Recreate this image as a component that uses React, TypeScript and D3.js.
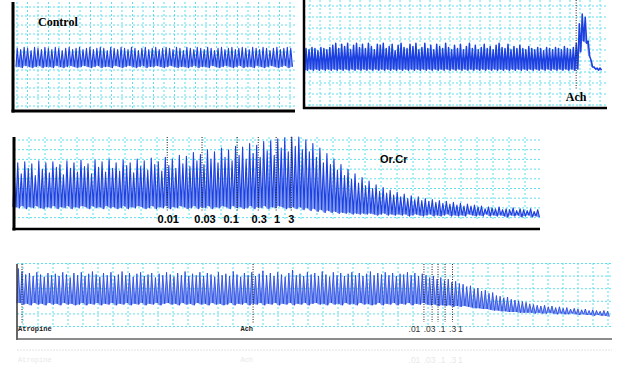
import React from 'react';
import * as d3 from 'd3';

// Control recording: peak and trough of each contraction (arbitrary tension units, 0-100)
const controlTop = [
  58, 57, 59, 58, 56, 59, 58, 57, 59, 58,
  57, 59, 58, 56, 58, 59, 57, 58, 59, 57,
  58, 59, 57, 58, 59, 58, 56, 59, 58, 57,
  59, 58, 57, 59, 58, 56, 58, 59, 57, 58,
  59, 57, 58, 59, 58, 57, 59, 58, 56, 59,
  58, 57, 59, 58, 57, 59, 58, 56, 58, 59,
  57, 58, 59, 57, 58, 59, 58, 57, 59, 58,
  57, 59, 58, 56, 58, 59, 57, 58, 59, 58,
];
const controlBottom = [
  41, 40, 42, 41, 40, 41, 42, 40, 41, 41,
  40, 42, 41, 40, 41, 42, 41, 40, 41, 42,
  41, 40, 41, 42, 40, 41, 41, 40, 42, 41,
  40, 41, 42, 41, 40, 41, 42, 40, 41, 41,
  42, 41, 40, 41, 42, 41, 40, 41, 41, 40,
  41, 42, 40, 41, 41, 40, 42, 41, 40, 41,
  42, 41, 40, 41, 42, 40, 41, 41, 40, 42,
  41, 40, 41, 42, 41, 40, 41, 42, 40, 41,
];

// Spontaneous activity then acetylcholine contraction
const achTop = [
  55, 54, 56, 55, 53, 56, 55, 54, 56,
  58, 60, 55, 59, 57, 60, 54, 58, 60, 56,
  59, 55, 60, 57, 54, 59, 58, 60, 55, 57,
  59, 53, 58, 60, 56, 55, 59, 57, 60, 54,
  56, 60, 55, 58, 54, 59, 57, 55, 60, 56,
  54, 58, 55, 59, 54, 57, 60, 55, 58, 54,
  56, 59, 55, 57, 54, 58, 60, 56, 55, 59,
  54, 57, 55, 58,
  55, 54, 57, 55, 54, 56, 55, 53, 56, 55,
  54, 56, 55, 54, 57, 55, 54, 56,
  60, 78, 87, 84, 62, 44, 38, 37, 37,
];
const achBottom = [
  35, 36, 35, 36, 35, 36, 35, 36, 35,
  36, 35, 36, 35, 36, 35, 36, 35, 36, 35,
  36, 35, 36, 35, 36, 35, 36, 35, 36, 35,
  36, 35, 36, 35, 36, 35, 36, 35, 36, 35,
  36, 35, 36, 35, 36, 35, 36, 35, 36, 35,
  36, 35, 36, 35, 36, 35, 36, 35, 36, 35,
  36, 35, 36, 35, 36, 35, 36, 35, 36, 35,
  36, 35, 36, 35,
  36, 35, 36, 35, 36, 35, 36, 35, 36, 35,
  36, 35, 36, 35, 36, 35, 36, 35,
  36, 52, 62, 60, 48, 38, 36, 35, 35,
];
const achEvents = [91.3];
const achEventLabels = ['Ach'];

// Or.Cr cumulative doses
const orcrTop = [
  62, 72, 60, 73, 66, 71, 58, 74, 65, 72,
  61, 73, 67, 70, 59, 74, 66, 72, 62, 75,
  68, 71, 60, 75, 67, 73, 62, 76, 66, 72,
  63, 75, 69, 72, 61, 76, 68, 74, 64, 77,
  70, 73, 63, 78, 69, 76, 66, 80, 71, 79,
  68, 83, 74, 81, 70, 86, 76, 84, 72, 88,
  78, 86, 74, 90, 80, 89, 76, 93, 82, 91,
  78, 95, 85, 96, 80, 98, 88, 99, 84, 100,
  90, 100, 86, 97, 84, 93, 78, 88, 72, 82,
  70, 76, 64, 70, 58, 65, 54, 60, 50, 56,
  47, 52, 44, 48, 41, 45, 39, 42, 37, 40,
  35, 38, 33, 36, 32, 35, 31, 33, 30, 32,
  29, 31, 28, 30, 27, 29, 26, 28, 25, 27,
  25, 26, 24, 25, 22, 24, 23, 22, 24, 21,
  22, 21, 23, 20, 22, 21, 20, 22, 19, 21,
];
const orcrBottom = [
  24, 23, 25, 22, 24, 23, 25, 23, 22, 24,
  23, 25, 22, 24, 23, 25, 22, 24, 23, 25,
  24, 22, 25, 23, 24, 22, 25, 23, 24, 22,
  23, 25, 22, 24, 23, 25, 24, 22, 23, 25,
  22, 24, 23, 25, 22, 24, 23, 25, 24, 22,
  23, 25, 22, 24, 23, 25, 22, 24, 23, 25,
  24, 22, 25, 23, 24, 22, 23, 25, 22, 24,
  23, 25, 22, 24, 23, 25, 24, 22, 23, 24,
  22, 24, 21, 23, 20, 22, 19, 21, 18, 20,
  18, 19, 17, 18, 17, 18, 16, 17, 16, 17,
  16, 17, 16, 15, 16, 17, 15, 16, 15, 16,
  15, 16, 14, 15, 16, 15, 14, 15, 16, 14,
  15, 14, 15, 16, 14, 15, 14, 15, 14, 16,
  15, 14, 15, 14, 16, 14, 15, 14, 15, 14,
  13, 15, 14, 15, 13, 14, 15, 13, 14, 13,
];
const orcrDoses = [43.9, 53.8, 63.8, 69.8, 74.9, 79.2];
const orcrDoseLabels = ['0.01', '0.03', '0.1', '0.3', '1', '3'];

// Atropine, Ach, then Or.Cr doses
const atroTop = [
  94, 90, 86, 88, 84, 89, 86, 83, 88, 85,
  87, 84, 89, 86, 82, 88, 85, 89, 84, 87,
  90, 86, 83, 88, 85, 89, 84, 86, 90, 85,
  88, 83, 87, 89, 84, 86, 88, 82, 87, 85,
  89, 86, 83, 88, 85, 90, 84, 87, 85, 89,
  84, 88, 86, 83, 89, 85, 87, 84, 90, 86,
  83, 88, 85, 89, 84, 87, 91, 85, 88, 84,
  89, 86, 83, 88, 92, 85, 87, 84, 89, 86,
  88, 84, 90, 86, 83, 89, 85, 88, 84, 87,
  89, 85, 88, 84, 87, 90, 85, 88, 86, 89,
  85, 88, 84, 87, 86, 89, 85, 88, 84, 87,
  85, 82, 84, 80, 82, 78, 80, 76, 77, 74,
  73, 70, 71, 67, 68, 64, 65, 61, 62, 58,
  57, 55, 56, 53, 52, 51, 50, 49, 47, 46,
  45, 44, 45, 43, 44, 42, 43, 41, 42, 40,
  41, 40, 39, 40, 38, 39, 38, 37, 38, 37,
];
const atroBottom = [
  48, 46, 47, 45, 48, 46, 47, 45, 48, 46,
  47, 45, 48, 46, 47, 45, 46, 48, 45, 47,
  46, 48, 45, 47, 46, 48, 45, 47, 46, 48,
  45, 47, 46, 48, 45, 47, 46, 48, 45, 47,
  48, 46, 47, 45, 48, 46, 47, 45, 48, 46,
  47, 45, 48, 46, 47, 45, 46, 48, 45, 47,
  46, 48, 45, 47, 46, 48, 45, 47, 46, 48,
  45, 47, 46, 48, 45, 47, 46, 48, 45, 47,
  48, 46, 47, 45, 48, 46, 47, 45, 48, 46,
  47, 45, 48, 46, 47, 45, 46, 48, 45, 47,
  46, 48, 45, 47, 46, 48, 45, 47, 46, 48,
  46, 45, 46, 44, 45, 44, 45, 43, 44, 43,
  44, 43, 42, 41, 41, 40, 40, 39, 38, 38,
  37, 37, 36, 36, 36, 35, 35, 35, 35, 34,
  35, 34, 34, 35, 34, 33, 34, 33, 33, 34,
  33, 32, 33, 32, 32, 31, 32, 31, 31, 30,
];
const atroEvents = [1.35, 63.7];
const atroEventLabels = ['Atropine', 'Ach'];
const atroDoses = [109.8, 112, 113.6, 115.5, 117.5];
const atroDoseLabels = ['.01', '.03', '.1', '.3', '1'];

const DARK = '#1d40e0';
const LIGHT = '#7d98f0';
const GRID = '#5fe0ec';

// Draw one tracing as a zigzag, each contraction filled light and outlined dark
const Trace = ({ top, bottom, x, y, sw = 1 }) => {
  const pts = [{ t: 0, v: bottom[0], b: bottom[0] }];
  top.forEach((v, i) => {
    pts.push({ t: i + 0.35, v, b: bottom[i] });
    pts.push({ t: i + 0.85, v: bottom[i], b: bottom[i] });
  });
  const area = d3.area().x(d => x(d.t)).y0(d => y(d.b)).y1(d => y(d.v));
  const line = d3.line().x(d => x(d.t)).y(d => y(d.v));
  return (
    <g>
      <path d={area(pts)} fill={LIGHT} />
      <path d={line(pts)} fill="none" stroke={DARK} strokeWidth={sw} strokeLinejoin="round" />
    </g>
  );
};

// Chart-paper grid of dotted cyan lines
const Grid = ({ x0, x1, y0, y1, ox, oy, sx, sy }) => (
  <g stroke={GRID} strokeWidth={1} strokeDasharray="2 2">
    {d3.range(ox, x1 + 0.1, sx).map(v => (
      <line key={'v' + v} x1={v} x2={v} y1={y0} y2={y1} />
    ))}
    {d3.range(oy, y1 + 0.1, sy).map(v => (
      <line key={'h' + v} x1={x0} x2={x1} y1={v} y2={v} />
    ))}
  </g>
);

const Marker = ({ x, y0, y1 }) => (
  <line x1={x} x2={x} y1={y0} y2={y1} stroke="#222" strokeWidth={1} strokeDasharray="1 1.5" />
);

export default function App() {
  // panel 1: Control
  const x1 = d3.scaleLinear().domain([0, controlTop.length]).range([16, 293]);
  const y1 = d3.scaleLinear().domain([0, 100]).range([111, 3]);
  // panel 2: Ach
  const x2 = d3.scaleLinear().domain([0, achTop.length]).range([305, 602]);
  const y2 = d3.scaleLinear().domain([0, 100]).range([108, 0]);
  // panel 3: Or.Cr
  const x3 = d3.scaleLinear().domain([0, orcrTop.length]).range([13, 540]);
  const y3 = d3.scaleLinear().domain([0, 100]).range([229, 137]);
  // panel 4: Atropine
  const x4 = d3.scaleLinear().domain([0, atroTop.length]).range([17, 610]);
  const y4 = d3.scaleLinear().domain([0, 100]).range([339, 264]);

  const orcrNudge = [1, 3, -6, 1, 1, 0];
  const atroNudge = [-9.5, -2.5, 4, 7.5, 8];
  const serif = '"Liberation Serif", "Times New Roman", serif';
  const sans = '"Liberation Sans", Arial, sans-serif';
  const mono = '"Liberation Mono", monospace';

  return (
    <svg width={630} height={374} style={{ position: 'absolute', left: 0, top: 0, background: '#fff' }}>
      {/* Control */}
      <Grid x0={13} x1={295} y0={2} y1={110} ox={17} oy={7} sx={10.5} sy={9} />
      <Trace top={controlTop} bottom={controlBottom} x={x1} y={y1} sw={1.1} />
      <line x1={13} x2={13} y1={2} y2={112.5} stroke="#000" strokeWidth={3} />
      <line x1={11.5} x2={295} y1={111} y2={111} stroke="#000" strokeWidth={3} />
      <text x={38} y={26} fontFamily={serif} fontWeight="bold" fontSize={12}>Control</text>

      {/* Ach */}
      <Grid x0={304} x1={607} y0={0} y1={106} ox={310} oy={6} sx={10} sy={11} />
      <Trace top={achTop} bottom={achBottom} x={x2} y={y2} sw={1.5} />
      {achEvents.map((t, i) => (
        <g key={i}>
          <Marker x={x2(t)} y0={0} y1={90} />
          <text x={x2(t)} y={101} textAnchor="middle" fontFamily={serif} fontWeight="bold" fontSize={12}>
            {achEventLabels[i]}
          </text>
        </g>
      ))}
      <line x1={304} x2={304} y1={0} y2={109} stroke="#000" strokeWidth={2.5} />
      <line x1={303} x2={607} y1={108} y2={108} stroke="#000" strokeWidth={2.5} />

      {/* Or.Cr */}
      <Grid x0={14} x1={540} y0={137} y1={220} ox={29} oy={140} sx={16} sy={9.7} />
      <Trace top={orcrTop} bottom={orcrBottom} x={x3} y={y3} sw={1.1} />
      {orcrDoses.map((t, i) => (
        <g key={i}>
          <Marker x={x3(t)} y0={137} y1={211} />
          <text x={x3(t) + orcrNudge[i]} y={223} textAnchor="middle" fontFamily={sans} fontWeight="bold" fontSize={11}>
            {orcrDoseLabels[i]}
          </text>
        </g>
      ))}
      <line x1={14} x2={14} y1={137} y2={230.5} stroke="#000" strokeWidth={3} />
      <line x1={12.5} x2={540} y1={229} y2={229} stroke="#000" strokeWidth={2.5} />
      <text x={380} y={163} fontFamily={sans} fontWeight="bold" fontSize={11}>Or.Cr</text>

      {/* Atropine */}
      <Grid x0={17} x1={612} y0={263} y1={327} ox={23} oy={263.5} sx={15} sy={12.6} />
      <Trace top={atroTop} bottom={atroBottom} x={x4} y={y4} sw={0.8} />
      {atroEvents.map((t, i) => (
        <Marker key={'e' + i} x={x4(t)} y0={264} y1={324} />
      ))}
      <text x={18} y={331} fontFamily={mono} fontWeight="bold" fontSize={7} fill="#222">{atroEventLabels[0]}</text>
      <text x={x4(atroEvents[1])} y={331} textAnchor="end" fontFamily={mono} fontWeight="bold" fontSize={7} fill="#222">{atroEventLabels[1]}</text>
      {atroDoses.map((t, i) => (
        <g key={'d' + i}>
          <Marker x={x4(t)} y0={264} y1={322} />
          <text x={x4(t) + atroNudge[i]} y={332} textAnchor="middle" fontFamily={sans} fontSize={8.5} fill="#333">
            {atroDoseLabels[i]}
          </text>
        </g>
      ))}
      <line x1={17} x2={17} y1={264} y2={340} stroke="#333" strokeWidth={1.5} />
      <line x1={17} x2={612} y1={339} y2={339} stroke="#666" strokeWidth={1.5} />

      {/* faint reflection under the last tracing */}
      <line x1={17} x2={612} y1={350} y2={350} stroke="#e2e2e2" strokeWidth={1} strokeDasharray="2 1" />
      <g fill="#e8e8e8" fontFamily={sans} fontSize={8.5}>
        {atroDoses.map((t, i) => (
          <text key={i} x={x4(t) + atroNudge[i]} y={363} textAnchor="middle">{atroDoseLabels[i]}</text>
        ))}
        <text x={18} y={362} fontFamily={mono} fontSize={7}>{atroEventLabels[0]}</text>
        <text x={x4(atroEvents[1])} y={362} textAnchor="end" fontFamily={mono} fontSize={7}>{atroEventLabels[1]}</text>
      </g>
    </svg>
  );
}
